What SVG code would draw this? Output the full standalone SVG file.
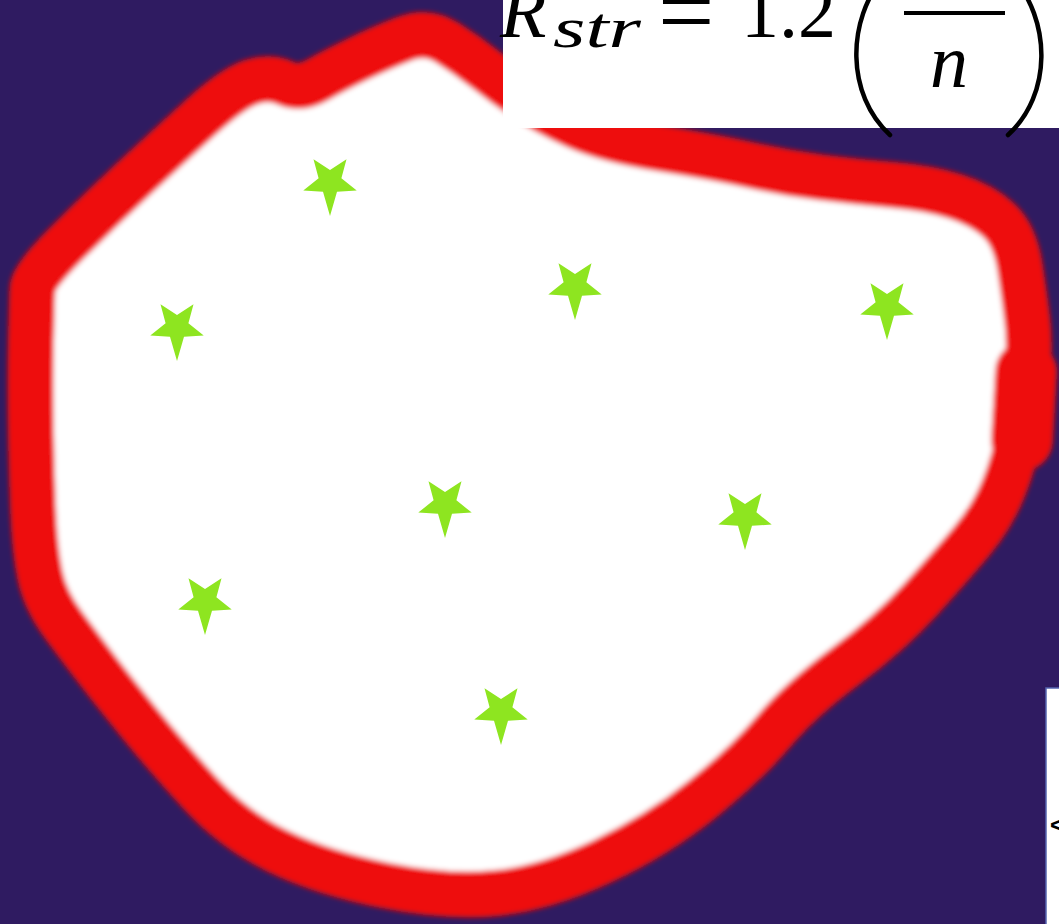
<svg xmlns="http://www.w3.org/2000/svg" width="1059" height="924" viewBox="0 0 1059 924">
  <style>
    .bg { fill: #2f1b61; }
    .blob { fill: #ffffff; stroke: #ee0b0b; stroke-width: 46; stroke-linejoin: round; stroke-linecap: round; }
    .bump { fill: none; stroke: #ee0b0b; stroke-width: 62; stroke-linecap: round; }
    .star { fill: #8ee520; }
    .math { font-family: "Liberation Serif", "DejaVu Serif", serif; fill: #000000; }
    .it { font-style: italic; }
    .delim { fill: none; stroke: #000000; stroke-width: 4.5; stroke-linecap: round; }
  </style>
  <defs>
    <filter id="soft" x="-5%" y="-5%" width="110%" height="110%">
      <feGaussianBlur stdDeviation="2.5"/>
    </filter>
    <polygon id="starShape" points="-16.5,-22.7 0,-12 16.5,-22.7 11.4,-3.7 26.7,8.6 7,9.8 0,34 -7,9.8 -26.7,8.6 -11.4,-3.7"/>
  </defs>

  <rect class="bg" x="0" y="0" width="1059" height="924"/>

  <g id="region" filter="url(#soft)">
    <path class="blob" d="M 32.5 288.5 Q 33 277 66.5 243.5 Q 100 210 133.5 179 Q 167 148 200 118 Q 233 88 251.5 82 Q 270 76 285 83 Q 300 90 317.5 80 Q 335 70 359 58.5 Q 383 47 405 38.5 Q 427 30 447 42.5 Q 467 55 486 70 Q 505 85 525 98.5 Q 545 112 576 126 Q 607 140 660.5 148.5 Q 714 157 750 165 Q 786 173 821.5 177.5 Q 857 182 893 185 Q 929 188 955.5 196.5 Q 982 205 998.5 220 Q 1015 235 1020 267.5 Q 1025 300 1027.5 322.5 Q 1030 345 1027.5 372.5 Q 1025 400 1020 430 Q 1015 460 1003.5 488.5 Q 992 517 971 542 Q 950 567 920 600 Q 890 633 845 666.5 Q 800 700 773.5 731.5 Q 747 763 702.5 799 Q 658 835 602 861.5 Q 546 888 497 893 Q 448 898 385.5 885.5 Q 323 873 278.5 851.5 Q 234 830 200.5 793.5 Q 167 757 141 725 Q 115 693 98.5 671.5 Q 82 650 63.5 625 Q 45 600 40 575 Q 35 550 33.5 516.5 Q 32 483 31 433 Q 30 383 31 341.5 Q 32 300 32.5 288.5 Z"/>
    <path class="bump" d="M 1026 372 L 1022 440"/>
  </g>

  <g id="stars">
    <g id="star1"><use href="#starShape" class="star" x="330" y="182"/></g>
    <g id="star2"><use href="#starShape" class="star" x="575" y="286"/></g>
    <g id="star3"><use href="#starShape" class="star" x="887" y="306"/></g>
    <g id="star4"><use href="#starShape" class="star" x="177" y="327"/></g>
    <g id="star5"><use href="#starShape" class="star" x="445" y="504"/></g>
    <g id="star6"><use href="#starShape" class="star" x="745" y="516"/></g>
    <g id="star7"><use href="#starShape" class="star" x="205" y="601"/></g>
    <g id="star8"><use href="#starShape" class="star" x="501" y="711"/></g>
  </g>

  <g id="formula">
    <rect x="503" y="0" width="556" height="128" fill="#ffffff"/>
    <text class="math it" x="500" y="37" font-size="76">R</text>
    <text class="math it" x="553" y="47" font-size="58" textLength="88" lengthAdjust="spacingAndGlyphs">str</text>
    <text class="math" x="658" y="45" font-size="100">=</text>
    <text class="math" x="741" y="37" font-size="76">1.2</text>
    <path class="delim" d="M 885 -25 C 846 20, 846 95, 890 135"/>
    <rect x="904" y="11" width="101" height="4" fill="#000000"/>
    <text class="math it" x="930" y="87" font-size="76">n</text>
    <path class="delim" d="M 1011 -25 C 1052 20, 1052 95, 1008 135"/>
  </g>

  <g id="sidebox">
    <rect x="1046" y="688" width="30" height="260" fill="#ffffff" stroke="#5566b0" stroke-width="1.5"/>
    <text x="1050" y="833" font-family="Liberation Sans, Arial, sans-serif" font-weight="bold" font-size="24" fill="#000000">&lt;</text>
  </g>
</svg>
